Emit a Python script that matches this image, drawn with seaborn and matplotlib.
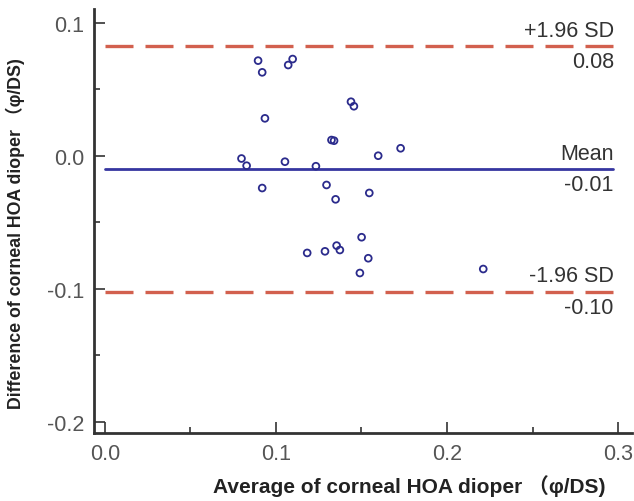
import numpy as np
import pandas as pd
import matplotlib
matplotlib.use("Agg")
import matplotlib.pyplot as plt
import seaborn as sns

# Bland-Altman data
avg_vals = [0.0896, 0.0920, 0.1072, 0.1098, 0.1439, 0.1456, 0.0936, 0.1325, 0.1340,
            0.1598, 0.1729, 0.0799, 0.0829, 0.1053, 0.1234, 0.0920, 0.1296, 0.1349,
            0.1546, 0.1501, 0.1183, 0.1287, 0.1355, 0.1374, 0.1540, 0.1491, 0.2212]
diff_vals = [0.0717, 0.0629, 0.0684, 0.0729, 0.0408, 0.0374, 0.0283, 0.0120, 0.0115,
             0.0002, 0.0058, -0.0019, -0.0073, -0.0043, -0.0077, -0.0241, -0.0218, -0.0326,
             -0.0278, -0.0611, -0.0729, -0.0717, -0.0674, -0.0707, -0.0769, -0.0880, -0.0850]

mean_diff = -0.0098
upper_loa = 0.0827
lower_loa = -0.1020
line_names = ["+1.96 SD", "Mean", "-1.96 SD"]
line_texts = ["0.08", "-0.01", "-0.10"]

df = pd.DataFrame({"avg": avg_vals, "diff": diff_vals})

sns.set_theme(style="white")
plt.rcParams['font.family'] = ['Liberation Sans', 'Noto Sans CJK SC', 'DejaVu Sans']

fig = plt.figure(figsize=(6.34, 5.02), dpi=100)
ax = fig.add_axes([0.148, 0.1355, 0.849, 0.8445])

red = "#d2604e"
blue = "#3636a0"

ax.plot([0, 0.297], [upper_loa, upper_loa], color=red, lw=2.4, dashes=(8.4, 3.6))
ax.plot([0, 0.297], [lower_loa, lower_loa], color=red, lw=2.4, dashes=(8.4, 3.6))
ax.plot([0, 0.297], [mean_diff, mean_diff], color=blue, lw=2.0)

sns.scatterplot(data=df, x="avg", y="diff", ax=ax, marker="o", s=24,
                facecolor="none", edgecolor="#2b2b8c", linewidth=1.3, zorder=3)

for yv, name, txt in zip([upper_loa, mean_diff, lower_loa], line_names, line_texts):
    ax.text(0.2975, yv + 0.004, name, ha="right", va="bottom", fontsize=15.5, color="#333333")
    ax.text(0.2975, yv - 0.004, txt, ha="right", va="top", fontsize=15.5, color="#333333")

ax.set_xlim(-0.0064, 0.3082)
ax.set_ylim(-0.2083, 0.1105)
ax.set_xticks([0.0, 0.1, 0.2, 0.3])
ax.set_xticks([0.05, 0.15, 0.25], minor=True)
ax.set_yticks([-0.2, -0.1, 0.0, 0.1])
ax.set_yticks([-0.15, -0.05, 0.05], minor=True)
ax.set_xticklabels(["0.0", "0.1", "0.2", "0.3"])
ax.set_yticklabels(["-0.2", "-0.1", "0.0", "0.1"])
ax.tick_params(which="major", direction="in", length=8, width=1.2, color="#333333",
               labelsize=15.5, labelcolor="#555555", pad=7)
ax.tick_params(which="minor", direction="in", length=4, width=1.2, color="#333333")
ax.tick_params(axis="x", bottom=True, which="both")
ax.tick_params(axis="y", left=True, which="both")

for side in ["top", "right"]:
    ax.spines[side].set_visible(False)
for side in ["left", "bottom"]:
    ax.spines[side].set_color("#333333")
    ax.spines[side].set_linewidth(2.0)

ax.set_xlabel("")
ax.set_ylabel("")
fig.text(0.645, 0.010, "Average of corneal HOA dioper \uff08\u03c6/DS)", ha="center", va="bottom",
         fontsize=15, fontweight="bold", color="#222222")
fig.text(0.025, 0.535, "Difference of corneal HOA dioper \uff08\u03c6/DS)", ha="center", va="center",
         rotation=90, fontsize=12.8, fontweight="bold", color="#222222")

fig.savefig("out.png", dpi=100)
